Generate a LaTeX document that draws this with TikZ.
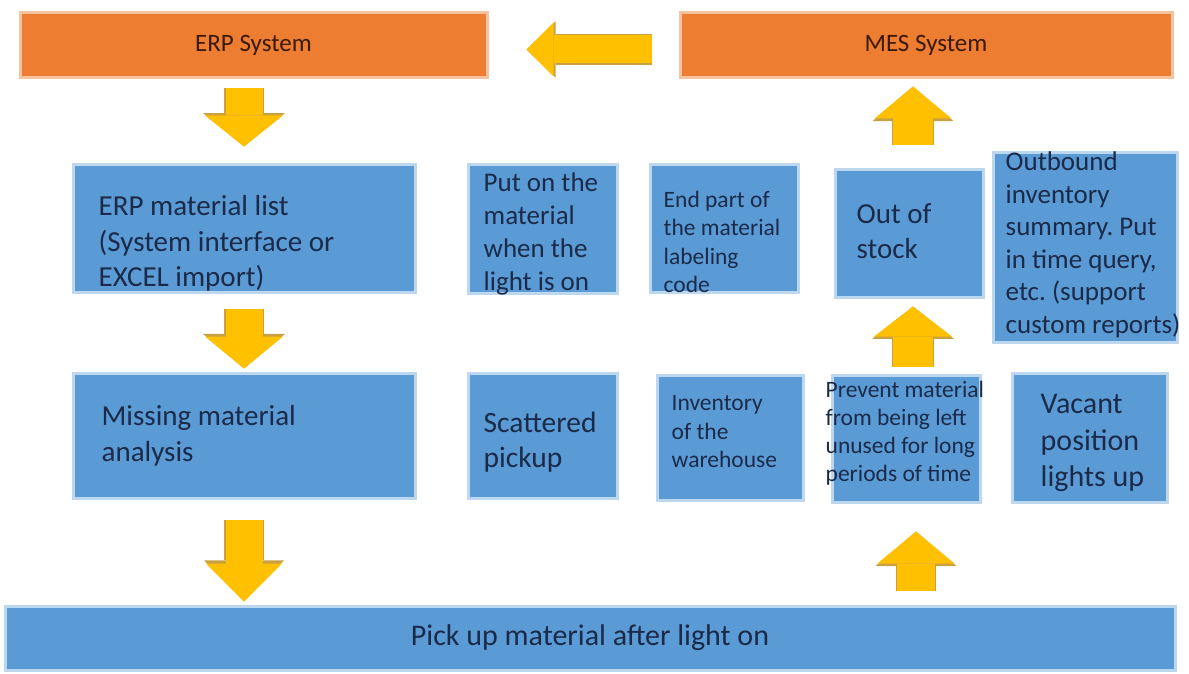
\documentclass[tikz,border=0pt]{standalone}
\usepackage{fontspec}
\setmainfont{Carlito}
\frenchspacing
\usetikzlibrary{arrows.meta,calc}
\definecolor{sysorange}{HTML}{ED7D31}
\definecolor{orangeedge}{HTML}{F6C3A0}
\definecolor{boxblue}{HTML}{5B9BD5}
\definecolor{blueedge}{HTML}{BDD7EE}
\definecolor{arrowyellow}{HTML}{FFC000}
\definecolor{arrowedge}{HTML}{C9A042}
\definecolor{boxtext}{HTML}{1B2A48}
\definecolor{systext}{HTML}{3A1A08}

\begin{document}
\begin{tikzpicture}[
  x=1pt, y=-1pt,
  sysbox/.style={rectangle, fill=sysorange, draw=orangeedge, line width=3pt, text=systext, font=\fontsize{25}{30}\selectfont},
  bluebox/.style={rectangle, fill=boxblue, draw=blueedge, line width=3pt, inner sep=0pt},
  boxlabel/.style={anchor=north west, align=left, inner sep=0pt, text=boxtext},
  blockarrow/.style n args={3}{draw=arrowyellow, line width=#1, -{Triangle[length=#3, width=#2, line width=0pt]},
    preaction={draw=arrowedge, line width=#1+2.4pt, -{Triangle[length=#3, width=#2, line width=0pt, scale length=1.08, scale width=1.05]}}}
]
\useasboundingbox (0,0) rectangle (1189,674);

% systems
\node[sysbox, minimum width=467pt, minimum height=65pt] (erp) at (253.5,45.5) {ERP System};
\node[sysbox, minimum width=492pt, minimum height=65pt] (mes) at (926,45.5) {MES System};

% boxes
\node[bluebox, minimum width=342pt, minimum height=127pt] (list) at (244,228.5) {};
\node[bluebox, minimum width=342pt, minimum height=125pt] (missing) at (244,435.5) {};
\node[bluebox, minimum width=149pt, minimum height=128pt] (puton) at (542.5,229) {};
\node[bluebox, minimum width=148pt, minimum height=127pt] (endpart) at (724,228.5) {};
\node[bluebox, minimum width=148pt, minimum height=127pt] (outstock) at (909,233.5) {};
\node[bluebox, minimum width=184pt, minimum height=189pt] (outbound) at (1085,247.5) {};
\node[bluebox, minimum width=149pt, minimum height=125pt] (scattered) at (542.5,435.5) {};
\node[bluebox, minimum width=146pt, minimum height=125pt] (inventory) at (730,437.5) {};
\node[bluebox, minimum width=148pt, minimum height=127pt] (prevent) at (906,438.5) {};
\node[bluebox, minimum width=155pt, minimum height=129pt] (vacant) at (1089.5,437.5) {};
\node[bluebox, minimum width=1170pt, minimum height=64pt, text=boxtext, font=\fontsize{30}{36}\selectfont] (pick) at (590,638) {Pick up material after light on};

% texts
\node[boxlabel, font=\fontsize{29}{35.5}\selectfont] (listtext) at ($(list.north west)+(27,32)$) {ERP material list\\(System interface or\\EXCEL import)};
\node[boxlabel, font=\fontsize{29}{36}\selectfont] (missingtext) at ($(missing.north west)+(30,34)$) {Missing material\\analysis};
\node[boxlabel, font=\fontsize{27}{33}\selectfont] (pusontext) at ($(puton.north west)+(17,9)$) {Put on the\\material\\when the\\light is on};
\node[boxlabel, font=\fontsize{23.5}{28.5}\selectfont] (endparttext) at ($(endpart.north west)+(15,27)$) {End part of\\the material\\labeling\\code};
\node[boxlabel, font=\fontsize{29}{35}\selectfont] (outstocktext) at ($(outstock.north west)+(23,35)$) {Out of\\stock};
\node[boxlabel, font=\fontsize{27}{32.6}\selectfont] (outboundtext) at ($(outbound.north west)+(14,0)$) {Outbound\\inventory\\summary. Put\\in time query,\\etc. (support\\custom reports)};
\node[boxlabel, font=\fontsize{29.5}{35}\selectfont] (scatteredtext) at ($(scattered.north west)+(17,40)$) {Scattered\\pickup};
\node[boxlabel, font=\fontsize{23.5}{28.5}\selectfont] (inventorytext) at ($(inventory.north west)+(16,22)$) {Inventory\\of the\\warehouse};
\node[boxlabel, font=\fontsize{23.5}{28.3}\selectfont] (preventtext) at ($(prevent.north west)+(-5,7)$) {Prevent material\\from being left\\unused for long\\periods of time};
\node[boxlabel, font=\fontsize{30}{36.5}\selectfont] (vacanttext) at ($(vacant.north west)+(30,23)$) {Vacant\\position\\lights up};

% arrows
\coordinate (risebase) at ([xshift=10pt]prevent.south);
\coordinate (stockbase) at ([xshift=4pt]outstock.south);
\coordinate (stocktop) at ([xshift=4pt]outstock.north);
\coordinate (mesleft) at ([yshift=-4pt]mes.west);
\draw[blockarrow={37pt}{78pt}{31pt}, shorten <=9pt, shorten >=17pt] (erp.south -| list.north) -- (list.north);
\draw[blockarrow={37pt}{78pt}{32pt}, shorten <=15pt, shorten >=3pt] (list.south) -- (missing.north);
\draw[blockarrow={37pt}{76pt}{38pt}, shorten <=20pt, shorten >=3pt] (missing.south) -- (missing.south |- pick.north);
\draw[blockarrow={38pt}{77pt}{32pt}, shorten <=14pt, shorten >=28pt] (risebase |- pick.north) -- (risebase);
\draw[blockarrow={40pt}{78pt}{30pt}, shorten <=7pt, shorten >=8pt] (stockbase |- prevent.north) -- (stockbase);
\draw[blockarrow={40pt}{77pt}{32pt}, shorten <=23pt, shorten >=7pt] (stocktop) -- (stocktop |- mes.south);
\draw[blockarrow={28pt}{54pt}{27pt}, shorten <=27pt, shorten >=38pt] (mesleft) -- (mesleft -| erp.east);
\end{tikzpicture}
\end{document}
